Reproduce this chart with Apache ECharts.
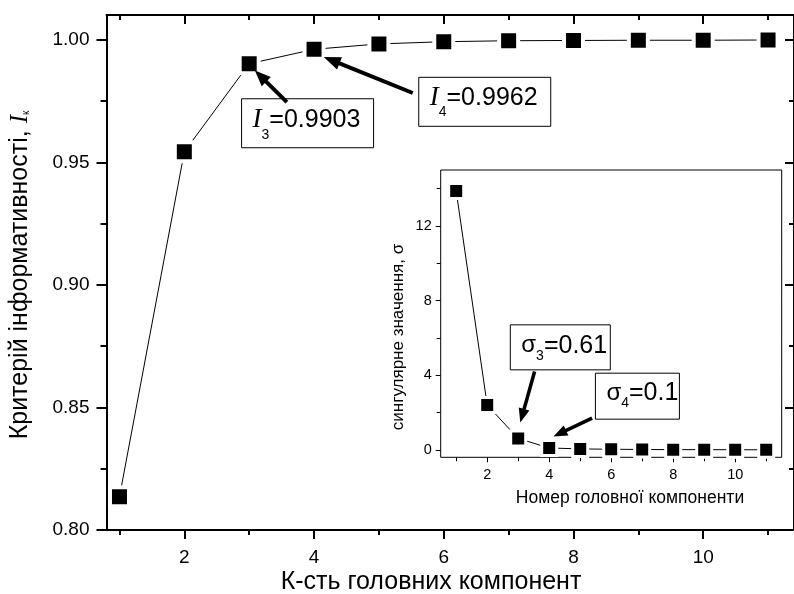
<!DOCTYPE html>
<html>
<head>
<meta charset="utf-8">
<script src="https://cdn.jsdelivr.net/npm/echarts@6/dist/echarts.min.js"></script>
<style>
  html, body { margin: 0; padding: 0; background: #fff; }
  #c { width: 794px; height: 594px; }
</style>
</head>
<body>
<div id="c"></div>
<script>
// Number of principal components and the informativeness criterion I_k
const components = [1, 2, 3, 4, 5, 6, 7, 8, 9, 10, 11];
const infoCriterion = [0.8136, 0.9544, 0.9903, 0.9962, 0.9984, 0.9993, 0.9997, 0.9998, 0.9999, 0.9999, 1.0000];
// Singular values of each principal component (inset)
const singularValues = [13.87, 2.40, 0.61, 0.10, 0.05, 0.03, 0.02, 0.01, 0.01, 0.005, 0.003];

// Tick positions
const mainXMajor = [2, 4, 6, 8, 10];
const mainXMinor = [1, 3, 5, 7, 9, 11];
const mainYMajor = [0.80, 0.85, 0.90, 0.95, 1.00];
const mainYMinor = [0.825, 0.875, 0.925, 0.975];
const insetXMajor = [2, 4, 6, 8, 10];
const insetXMinor = [1, 3, 5, 7, 9, 11];
const insetYMajor = [0, 4, 8, 12];
const insetYMinor = [2, 6, 10, 14];

const BLACK = '#000';
const SANS = '"Liberation Sans", Arial, sans-serif';
const SERIF = '"Liberation Serif", "Times New Roman", serif';

const chart = echarts.init(document.getElementById('c'), null, { renderer: 'canvas' });

// one axis of a framed plot: the line (optional), a set of ticks and optional labels
function axis(o) {
  const a = {
    type: 'value',
    gridIndex: o.grid,
    min: o.min,
    max: o.max,
    position: o.position,
    splitLine: { show: false },
    axisLine: { show: !!o.line, onZero: false, lineStyle: { color: BLACK, width: o.lw } },
    axisTick: {
      show: true, inside: !!o.inside, length: o.len, customValues: o.ticks,
      lineStyle: { color: BLACK, width: o.lw }
    },
    axisLabel: { show: false },
    silent: true
  };
  if (o.labels) {
    a.axisLabel = {
      show: true, customValues: o.ticks, margin: o.margin,
      fontSize: o.fontSize, fontFamily: SANS, color: BLACK,
      formatter: o.fmt || (v => String(v))
    };
  }
  return a;
}

const mainX = { grid: 0, min: 0.8, max: 11.4, lw: 2 };
const mainY = { grid: 0, min: 0.8, max: 1.0102, lw: 2 };
const insX = { grid: 1, min: 0.5, max: 11.5, lw: 1 };
const insY = { grid: 1, min: -0.4, max: 15, lw: 1 };

const xAxes = [
  axis(Object.assign({}, mainX, { position: 'bottom', line: true, ticks: mainXMajor, len: 9, labels: true, margin: 18, fontSize: 19 })),
  axis(Object.assign({}, mainX, { position: 'bottom', ticks: mainXMinor, len: 5 })),
  axis(Object.assign({}, mainX, { position: 'top', line: true, inside: true, ticks: mainXMajor, len: 9 })),
  axis(Object.assign({}, mainX, { position: 'top', inside: true, ticks: mainXMinor, len: 5 })),
  axis(Object.assign({}, insX, { position: 'bottom', ticks: insetXMajor, len: 5, labels: true, margin: 10, fontSize: 14.5 })),
  axis(Object.assign({}, insX, { position: 'bottom', ticks: insetXMinor, len: 4 })),
  axis(Object.assign({}, insX, { position: 'top', inside: true, ticks: insetXMajor, len: 5 })),
  axis(Object.assign({}, insX, { position: 'top', inside: true, ticks: insetXMinor, len: 4 }))
];

const yAxes = [
  axis(Object.assign({}, mainY, { position: 'left', line: true, ticks: mainYMajor, len: 10, labels: true, margin: 17, fontSize: 19, fmt: v => v.toFixed(2) })),
  axis(Object.assign({}, mainY, { position: 'left', ticks: mainYMinor, len: 6 })),
  axis(Object.assign({}, mainY, { position: 'right', line: true, inside: true, ticks: mainYMajor, len: 9 })),
  axis(Object.assign({}, mainY, { position: 'right', inside: true, ticks: mainYMinor, len: 5 })),
  axis(Object.assign({}, insY, { position: 'left', ticks: insetYMajor, len: 5, labels: true, margin: 9, fontSize: 14.5 })),
  axis(Object.assign({}, insY, { position: 'left', ticks: insetYMinor, len: 4 })),
  axis(Object.assign({}, insY, { position: 'right', inside: true, ticks: insetYMajor, len: 5 })),
  axis(Object.assign({}, insY, { position: 'right', inside: true, ticks: insetYMinor, len: 4 }))
];

chart.setOption({
  animation: false,
  backgroundColor: '#fff',
  grid: [
    { left: 106.5, top: 15, right: -1, bottom: 64 },
    { left: 440.7, top: 170, right: 12.3, bottom: 136.7, show: true, backgroundColor: '#fff', borderColor: BLACK, borderWidth: 1, z: 4 }
  ],
  xAxis: xAxes,
  yAxis: yAxes,
  series: [
    {
      type: 'line', xAxisIndex: 0, yAxisIndex: 0, z: 3,
      data: components.map((c, i) => [c, infoCriterion[i]]),
      symbol: 'rect', symbolSize: 19,
      itemStyle: { color: BLACK, borderColor: '#fff', borderWidth: 4 },
      lineStyle: { color: BLACK, width: 1 },
      emphasis: { disabled: true }, silent: true
    },
    {
      type: 'line', xAxisIndex: 4, yAxisIndex: 4, z: 6,
      data: components.map((c, i) => [c, singularValues[i]]),
      symbol: 'rect', symbolSize: 15,
      itemStyle: { color: BLACK, borderColor: '#fff', borderWidth: 3 },
      lineStyle: { color: BLACK, width: 1 },
      emphasis: { disabled: true }, silent: true
    }
  ]
});

// ---- annotations, titles ----
const measureCtx = document.createElement('canvas').getContext('2d');
function textWidth(text, size, family, style) {
  measureCtx.font = (style ? style + ' ' : '') + size + 'px ' + family;
  return measureCtx.measureText(text).width;
}

function arrow(tail, tip, width, headLen, headW) {
  const dx = tip[0] - tail[0], dy = tip[1] - tail[1];
  const L = Math.hypot(dx, dy);
  const ux = dx / L, uy = dy / L;
  const bx = tip[0] - ux * headLen, by = tip[1] - uy * headLen;
  const px = -uy, py = ux;
  return [
    { type: 'line', z: 20, shape: { x1: tail[0], y1: tail[1], x2: bx + ux * 2, y2: by + uy * 2 },
      style: { stroke: BLACK, lineWidth: width } },
    { type: 'polygon', z: 20, shape: { points: [tip, [bx + px * headW / 2, by + py * headW / 2], [bx - px * headW / 2, by - py * headW / 2]] },
      style: { fill: BLACK } }
  ];
}

// framed label: symbol (italic I or σ), subscript index, then "=value"
function framed(left, top, w, h, parts) {
  const els = [{ type: 'rect', z: 19, shape: { x: left, y: top, width: w, height: h },
    style: { fill: '#fff', stroke: BLACK, lineWidth: 1 } }];
  let x = left + parts.padL;
  parts.items.forEach(p => {
    els.push({ type: 'text', z: 21, x: x, y: top + p.dy,
      style: { text: p.text, fontSize: p.size, fontFamily: p.family, fontStyle: p.style || 'normal',
        fill: BLACK, align: 'left', verticalAlign: 'middle' } });
    x += textWidth(p.text, p.size, p.family, p.style);
  });
  return els;
}

function labelParts(sym, symFamily, symSize, symStyle, idx, value, mainDy, subDy) {
  return {
    padL: 11,
    items: [
      { text: sym, size: symSize, family: symFamily, style: symStyle, dy: mainDy },
      { text: idx, size: 14, family: SANS, dy: subDy },
      { text: '=' + value, size: 25, family: SANS, dy: mainDy }
    ]
  };
}

const p3 = chart.convertToPixel({ xAxisIndex: 0, yAxisIndex: 0 }, [components[2], infoCriterion[2]]);
const p4 = chart.convertToPixel({ xAxisIndex: 0, yAxisIndex: 0 }, [components[3], infoCriterion[3]]);
const s3 = chart.convertToPixel({ xAxisIndex: 4, yAxisIndex: 4 }, [components[2], singularValues[2]]);
const s4 = chart.convertToPixel({ xAxisIndex: 4, yAxisIndex: 4 }, [components[3], singularValues[3]]);

let g = [];
// I3 and I4 call-outs
g = g.concat(framed(p3[0] - 7.6, p3[1] + 35, 132, 49,
  labelParts('I', SERIF, 27, 'italic', '3', infoCriterion[2].toFixed(4), 21, 36)));
g = g.concat(arrow([p3[0] + 37.7, p3[1] + 38.4], [p3[0] + 5.7, p3[1] + 6.7], 4, 16, 13));
g = g.concat(framed(p4[0] + 104.7, p4[1] + 28, 132, 49,
  labelParts('I', SERIF, 27, 'italic', '4', infoCriterion[3].toFixed(4), 21, 35)));
g = g.concat(arrow([p4[0] + 98.7, p4[1] + 43.7], [p4[0] + 9.7, p4[1] + 7.7], 4, 17, 13));
// sigma3 and sigma4 call-outs
g = g.concat(framed(s3[0] - 7.9, s3[1] - 113.6, 100, 45,
  labelParts('σ', SANS, 24, null, '3', String(singularValues[2]), 21, 31)));
g = g.concat(arrow([s3[0] + 16.4, s3[1] - 66.9], [s3[0] + 2.1, s3[1] - 15.9], 3.5, 14, 11));
g = g.concat(framed(s4[0] + 46.2, s4[1] - 74.8, 84, 46,
  labelParts('σ', SANS, 24, null, '4', String(singularValues[3]), 20, 30)));
g = g.concat(arrow([s4[0] + 42.9, s4[1] - 29.8], [s4[0] + 4.2, s4[1] - 11.4], 3.5, 14, 11));

// Axis titles
g.push({ type: 'text', x: 431, y: 582, z: 10,
  style: { text: 'К-сть головних компонент', fontSize: 25, fontFamily: SANS, fill: BLACK, align: 'center', verticalAlign: 'middle' } });
g.push({ type: 'text', x: 630, y: 498, z: 10,
  style: { text: 'Номер головної компоненти', fontSize: 17.5, fontFamily: SANS, fill: BLACK, align: 'center', verticalAlign: 'middle' } });
g.push({ type: 'text', x: 398, y: 337, rotation: Math.PI / 2, z: 10,
  style: { text: 'сингулярне значення, σ', fontSize: 17, fontFamily: SANS, fill: BLACK, align: 'center', verticalAlign: 'middle' } });

// main vertical title with italic I and subscript к
(function () {
  const t1 = 'Критерій інформативності, ';
  const fs = 25;
  const w1 = textWidth(t1, fs, SANS);
  const w2 = textWidth('I', fs, SERIF, 'italic');
  const w3 = textWidth('к', 10, SANS);
  const total = w1 + w2 + w3;
  const x0 = -total / 2;
  g.push({
    type: 'group', x: 20, y: 275, rotation: Math.PI / 2, z: 10,
    children: [
      { type: 'text', x: x0, y: 0, style: { text: t1, fontSize: fs, fontFamily: SANS, fill: BLACK, align: 'left', verticalAlign: 'middle' } },
      { type: 'text', x: x0 + w1, y: 0, style: { text: 'I', fontSize: fs, fontFamily: SERIF, fontStyle: 'italic', fill: BLACK, align: 'left', verticalAlign: 'middle' } },
      { type: 'text', x: x0 + w1 + w2, y: 6, style: { text: 'к', fontSize: 10, fontFamily: SANS, fill: BLACK, align: 'left', verticalAlign: 'middle' } }
    ]
  });
})();

chart.setOption({ graphic: g });
</script>
</body>
</html>
